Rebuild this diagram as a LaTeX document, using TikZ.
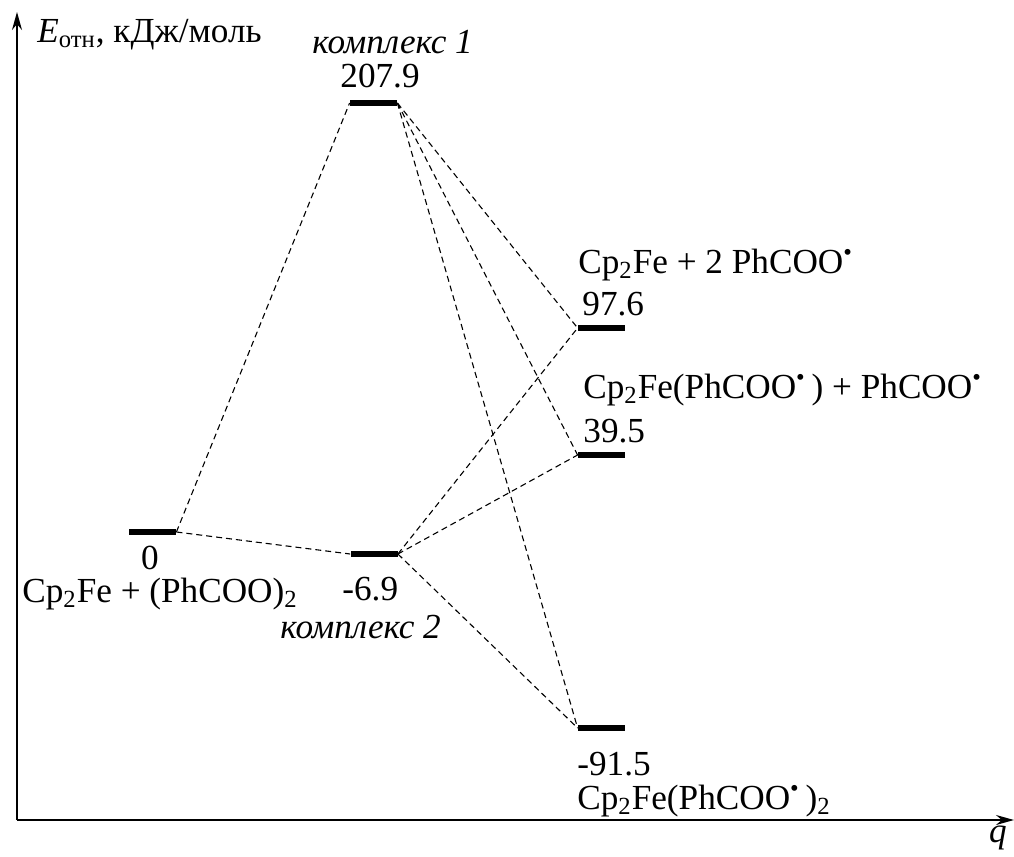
\documentclass[tikz,border=0pt]{standalone}
\usepackage{fontspec}
\setmainfont{Liberation Serif}
\usepackage{tikz}
\usetikzlibrary{arrows.meta}
\tikzstyle{enlevel}=[
        fill=black,
        inner sep=0pt,
        minimum width=23.5pt,
        minimum height=3.3pt
]
\tikzstyle{transition}=[
        line width=0.55pt,
        dash pattern=on 3pt off 2pt
]
\tikzstyle{caption}=[
        inner sep=0pt,
        anchor=base west
]
\tikzstyle{axis}=[
        line width=0.8pt,
        -{Stealth[length=9pt,width=5pt]}
]
\newcommand{\rad}{\textsuperscript{\textbullet}}

\begin{document}
\begin{tikzpicture}[x=0.5pt,y=-0.5pt]
                        \useasboundingbox (0,0) rectangle (1014,857);
                        \fontsize{17.6}{20}\selectfont

                        \coordinate (origin) at (17,820);
                        \coordinate (ytip) at (17,12);
                        \coordinate (xtip) at (1014,820);
                        \draw[axis] (origin) -- (ytip);
                        \draw[axis] (origin) -- (xtip);

                        \node[caption] (ylab) at (37,42) {\textit{E}\textsubscript{отн}, кДж/моль};
                        \node[inner sep=0pt,anchor=base] (xlab) at (998,842) {\textit{q}};

                        % levels
                        \node[enlevel] (r0) at (152.5,532) {};
                        \node[enlevel] (c1) at (373.5,103) {};
                        \node[enlevel] (c2) at (374,554) {};
                        \node[enlevel] (p1) at (601.5,328) {};
                        \node[enlevel] (p2) at (601.5,455) {};
                        \node[enlevel] (p3) at (601.5,728) {};

                        % energies
                        \node[inner sep=0pt,anchor=base] (e0) at (150,569) {0};
                        \node[caption] (e1) at (340,87) {207.9};
                        \node[caption] (e2) at (342,600) {-6.9};
                        \node[caption] (e3) at (582,315) {97.6};
                        \node[caption] (e4) at (583,442) {39.5};
                        \node[caption] (e5) at (577,775) {-91.5};

                        % species
                        \node[caption] (s0) at (22,602) {Cp\textsubscript{2}Fe + (PhCOO)\textsubscript{2}};
                        \node[caption] (s1) at (312,53) {\textit{комплекс 1}};
                        \node[caption] (s2) at (280,638) {\textit{комплекс 2}};
                        \node[caption] (s3) at (578,273) {Cp\textsubscript{2}Fe + 2 PhCOO\rad};
                        \node[caption] (s4) at (583,398) {Cp\textsubscript{2}Fe(PhCOO\rad\,) + PhCOO\rad};
                        \node[caption] (s5) at (577,809) {Cp\textsubscript{2}Fe(PhCOO\rad\,)\textsubscript{2}};

                        \foreach \a/\b in {r0/c1,r0/c2,c1/p1,c1/p2,c1/p3,c2/p1,c2/p2,c2/p3} {
                            \draw[transition] (\a.east) -- (\b.west);
                        }

                    \end{tikzpicture}
\end{document}
